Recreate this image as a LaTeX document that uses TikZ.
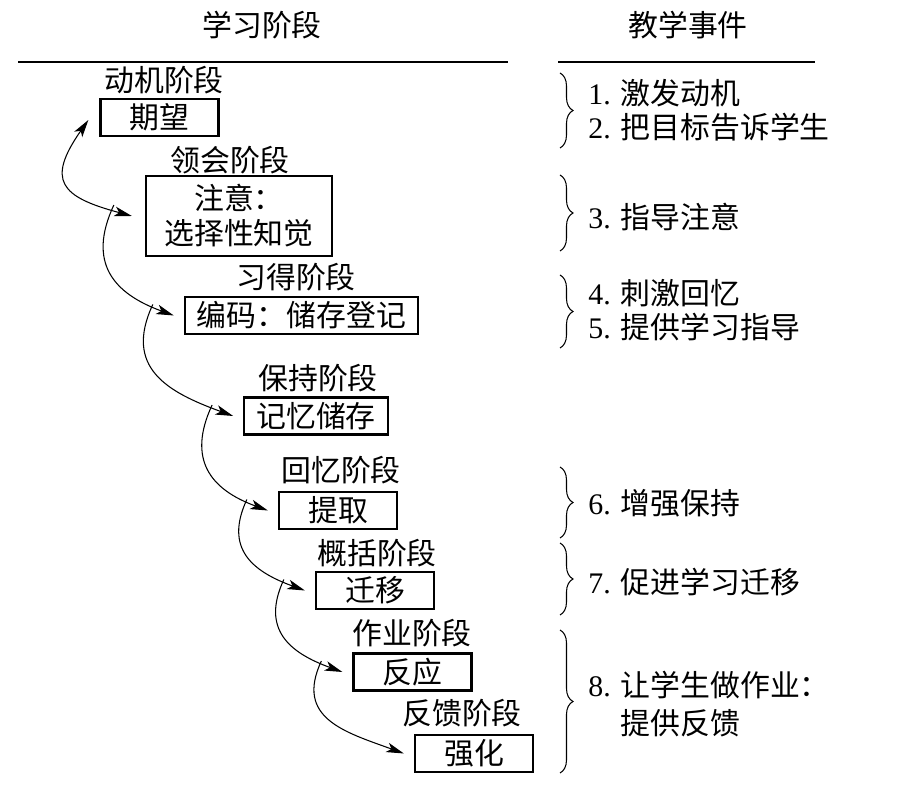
\documentclass[tikz,border=0pt]{standalone}
\usepackage{fontspec}
\setmainfont{Liberation Serif}
\newfontfamily\cjk{Noto Sans CJK SC}
\usetikzlibrary{arrows.meta, decorations.pathreplacing, calc}

\begin{document}
\begin{tikzpicture}[
    stagebox/.style={draw, line width=1.3pt, minimum width=2.36cm, minimum height=0.74cm, inner xsep=0.24cm, inner ysep=0pt, align=center, font=\cjk\fontsize{17}{20}\selectfont},
    stagelbl/.style={inner sep=0pt, font=\cjk\fontsize{17}{20}\selectfont},
    head/.style={inner sep=0pt, font=\cjk\fontsize{17}{20}\selectfont},
    event/.style={anchor=west, inner sep=0pt, align=left, font=\fontsize{17}{21.5}\selectfont},
    arrow/.style={-{Stealth[length=10pt, width=5.5pt, inset=2.5pt]}, line width=0.6pt},
    dblarrow/.style={{Stealth[length=10pt, width=5.5pt, inset=2.5pt]}-{Stealth[length=10pt, width=5.5pt, inset=2.5pt]}, line width=0.6pt},
    brc/.style={decorate, decoration={brace, amplitude=0.26cm}, line width=0.6pt}
]
\useasboundingbox (0,0) rectangle (18.12,-15.86);

% headings
\node[head] (hleft)  at (5.24,-0.50)  {学习阶段};
\node[head] (hright) at (13.76,-0.50) {教学事件};
\draw[line width=0.6pt] (0.36,-1.24)  -- (10.16,-1.24);
\draw[line width=0.6pt] (11.16,-1.24) -- (16.30,-1.24);

% stages
\node[stagelbl] (motiv)   at (3.28,-1.60)  {动机阶段};
\node[stagelbl] (appreh)  at (4.60,-3.20)  {领会阶段};
\node[stagelbl] (acquis)  at (5.92,-5.54)  {习得阶段};
\node[stagelbl] (retain)  at (6.36,-7.56)  {保持阶段};
\node[stagelbl] (recall)  at (6.82,-9.40)  {回忆阶段};
\node[stagelbl] (general) at (7.54,-11.06) {概括阶段};
\node[stagelbl] (perform) at (8.24,-12.66) {作业阶段};
\node[stagelbl] (feedbk)  at (9.24,-14.26) {反馈阶段};

\node[stagebox] (expect)    at (3.19,-2.35)  {期望};
\node[stagebox, minimum width=3.72cm, minimum height=1.6cm] (attend) at (4.78,-4.32) {注意：\\选择性知觉};
\node[stagebox] (encode)    at (6.03,-6.31)  {编码：储存登记};
\node[stagebox] (store)     at (6.32,-8.32)  {记忆储存};
\node[stagebox] (retrieve)  at (6.76,-10.21) {提取};
\node[stagebox] (transfer)  at (7.50,-11.81) {迁移};
\node[stagebox] (respond)   at (8.25,-13.44) {反应};
\node[stagebox] (reinforce) at (9.48,-15.07) {强化};

% events
\node[event] (ev1) at (11.76,-1.86)  {1. {\cjk 激发动机}};
\node[event] (ev2) at (11.76,-2.54)  {2. {\cjk 把目标告诉学生}};
\node[event] (ev3) at (11.76,-4.34)  {3. {\cjk 指导注意}};
\node[event] (ev4) at (11.76,-5.86)  {4. {\cjk 刺激回忆}};
\node[event] (ev5) at (11.76,-6.54)  {5. {\cjk 提供学习指导}};
\node[event] (ev6) at (11.76,-10.06) {6. {\cjk 增强保持}};
\node[event] (ev7) at (11.76,-11.64) {7. {\cjk 促进学习迁移}};
\node[event] (ev8) at (11.76,-14.08) {8. {\cjk 让学生做作业：}\\\phantom{8. }{\cjk 提供反馈}};

\draw[brc] (11.20,-1.46)  -- (11.20,-2.96);
\draw[brc] (11.20,-3.50)  -- (11.20,-5.02);
\draw[brc] (11.20,-5.50)  -- (11.20,-6.96);
\draw[brc] (11.20,-9.34)  -- (11.20,-10.76);
\draw[brc] (11.20,-10.86) -- (11.20,-12.30);
\draw[brc] (11.20,-12.60) -- (11.20,-15.46);

% arrows between stages
\draw[dblarrow] ([shift={(-0.22,-0.05)}]expect.west) to[out=235, in=165, looseness=1.8] ([xshift=-0.26cm]attend.west);
\foreach \a/\b in {attend/encode, encode/store, store/retrieve, retrieve/transfer, transfer/respond, respond/reinforce}
    \draw[arrow] ([shift={(-0.62,0.22)}]\a.west) to[out=245, in=160, looseness=1.3] ([xshift=-0.2cm]\b.west);
\end{tikzpicture}
\end{document}
